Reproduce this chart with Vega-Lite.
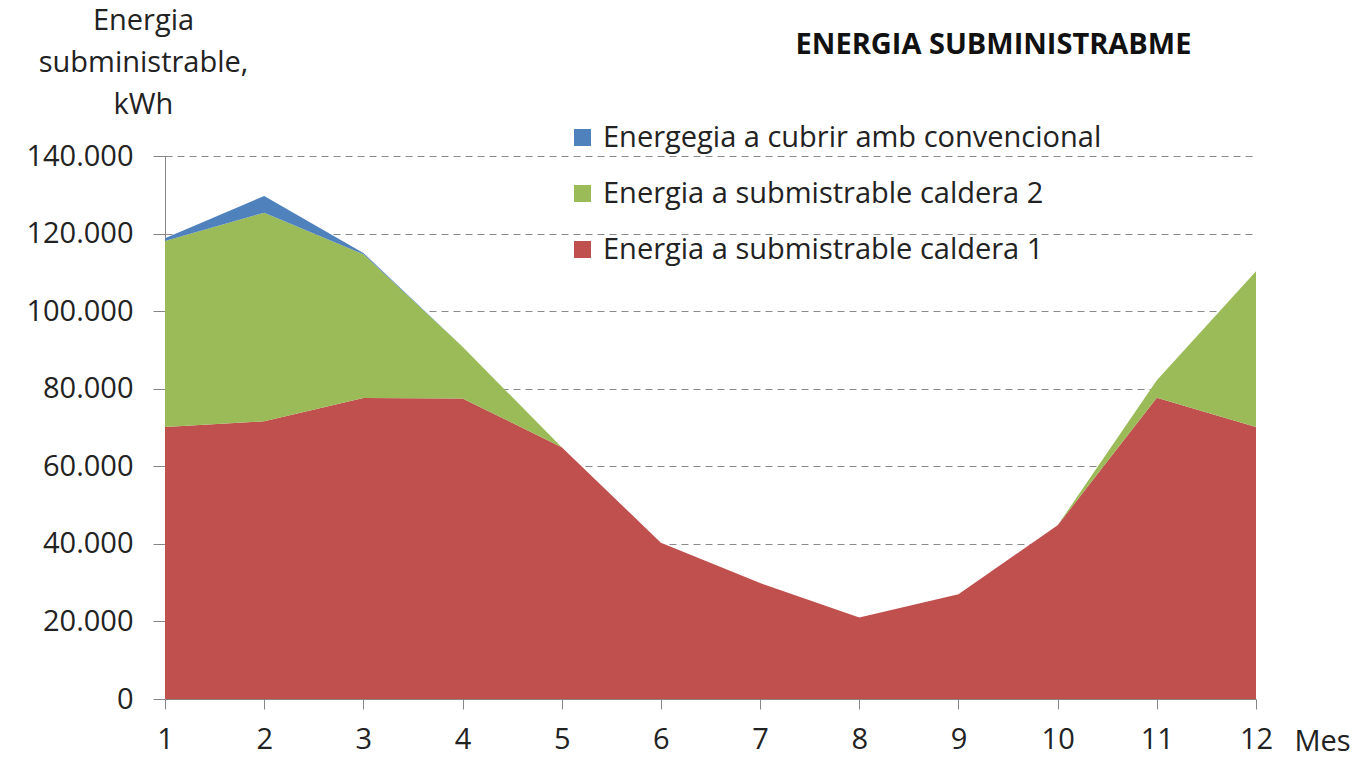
{
  "$schema": "https://vega.github.io/schema/vega-lite/v6.json",
  "width": 1091,
  "height": 543,
  "autosize": {"type": "none"},
  "padding": {"left": 165, "top": 156, "right": 102, "bottom": 59},
  "background": "white",
  "config": {
    "view": {"stroke": null},
    "font": "Open Sans",
    "locale": {"number": {"decimal": ",", "thousands": ".", "grouping": [3], "currency": ["", " €"]}}
  },
  "title": {
    "text": "ENERGIA SUBMINISTRABME",
    "font": "Open Sans",
    "fontSize": 29,
    "fontWeight": "bold",
    "color": "#111111",
    "anchor": "middle",
    "frame": "group",
    "dx": 283,
    "offset": -54
  },
  "data": {
    "values": [
      {"mes": 1, "serie": "Energia a submistrable caldera 1", "ordre": 1, "kwh": 70100},
      {"mes": 2, "serie": "Energia a submistrable caldera 1", "ordre": 1, "kwh": 71600},
      {"mes": 3, "serie": "Energia a submistrable caldera 1", "ordre": 1, "kwh": 77600},
      {"mes": 4, "serie": "Energia a submistrable caldera 1", "ordre": 1, "kwh": 77500},
      {"mes": 5, "serie": "Energia a submistrable caldera 1", "ordre": 1, "kwh": 64900},
      {"mes": 6, "serie": "Energia a submistrable caldera 1", "ordre": 1, "kwh": 40300},
      {"mes": 7, "serie": "Energia a submistrable caldera 1", "ordre": 1, "kwh": 29900},
      {"mes": 8, "serie": "Energia a submistrable caldera 1", "ordre": 1, "kwh": 21000},
      {"mes": 9, "serie": "Energia a submistrable caldera 1", "ordre": 1, "kwh": 27000},
      {"mes": 10, "serie": "Energia a submistrable caldera 1", "ordre": 1, "kwh": 44800},
      {"mes": 11, "serie": "Energia a submistrable caldera 1", "ordre": 1, "kwh": 77700},
      {"mes": 12, "serie": "Energia a submistrable caldera 1", "ordre": 1, "kwh": 70100},
      {"mes": 1, "serie": "Energia a submistrable caldera 2", "ordre": 2, "kwh": 48000},
      {"mes": 2, "serie": "Energia a submistrable caldera 2", "ordre": 2, "kwh": 53800},
      {"mes": 3, "serie": "Energia a submistrable caldera 2", "ordre": 2, "kwh": 37100},
      {"mes": 4, "serie": "Energia a submistrable caldera 2", "ordre": 2, "kwh": 13300},
      {"mes": 5, "serie": "Energia a submistrable caldera 2", "ordre": 2, "kwh": 0},
      {"mes": 6, "serie": "Energia a submistrable caldera 2", "ordre": 2, "kwh": 0},
      {"mes": 7, "serie": "Energia a submistrable caldera 2", "ordre": 2, "kwh": 0},
      {"mes": 8, "serie": "Energia a submistrable caldera 2", "ordre": 2, "kwh": 0},
      {"mes": 9, "serie": "Energia a submistrable caldera 2", "ordre": 2, "kwh": 0},
      {"mes": 10, "serie": "Energia a submistrable caldera 2", "ordre": 2, "kwh": 0},
      {"mes": 11, "serie": "Energia a submistrable caldera 2", "ordre": 2, "kwh": 4500},
      {"mes": 12, "serie": "Energia a submistrable caldera 2", "ordre": 2, "kwh": 40200},
      {"mes": 1, "serie": "Energegia a cubrir amb convencional", "ordre": 3, "kwh": 700},
      {"mes": 2, "serie": "Energegia a cubrir amb convencional", "ordre": 3, "kwh": 4300},
      {"mes": 3, "serie": "Energegia a cubrir amb convencional", "ordre": 3, "kwh": 300},
      {"mes": 4, "serie": "Energegia a cubrir amb convencional", "ordre": 3, "kwh": 0},
      {"mes": 5, "serie": "Energegia a cubrir amb convencional", "ordre": 3, "kwh": 0},
      {"mes": 6, "serie": "Energegia a cubrir amb convencional", "ordre": 3, "kwh": 0},
      {"mes": 7, "serie": "Energegia a cubrir amb convencional", "ordre": 3, "kwh": 0},
      {"mes": 8, "serie": "Energegia a cubrir amb convencional", "ordre": 3, "kwh": 0},
      {"mes": 9, "serie": "Energegia a cubrir amb convencional", "ordre": 3, "kwh": 0},
      {"mes": 10, "serie": "Energegia a cubrir amb convencional", "ordre": 3, "kwh": 0},
      {"mes": 11, "serie": "Energegia a cubrir amb convencional", "ordre": 3, "kwh": 0},
      {"mes": 12, "serie": "Energegia a cubrir amb convencional", "ordre": 3, "kwh": 0}
    ]
  },
  "mark": {"type": "area", "interpolate": "linear"},
  "encoding": {
    "x": {
      "field": "mes",
      "type": "quantitative",
      "scale": {"domain": [1, 12], "nice": false, "zero": false},
      "axis": {
        "values": [1, 2, 3, 4, 5, 6, 7, 8, 9, 10, 11, 12],
        "format": "d",
        "grid": false,
        "domainColor": "#868686",
        "tickColor": "#868686",
        "tickSize": 10,
        "labelFontSize": 29,
        "labelColor": "#222222",
        "labelPadding": 16,
        "labelFlush": false,
        "title": "Mes",
        "titleFontSize": 29,
        "titleFontWeight": "normal",
        "titleColor": "#222222",
        "titleX": 1157,
        "titleY": 42,
        "titleAlign": "center",
        "titleBaseline": "middle"
      }
    },
    "y": {
      "field": "kwh",
      "type": "quantitative",
      "stack": "zero",
      "scale": {"domain": [0, 140000], "nice": false},
      "axis": {
        "values": [0, 20000, 40000, 60000, 80000, 100000, 120000, 140000],
        "format": ",.0f",
        "grid": true,
        "gridColor": "#8a8a8a",
        "gridDash": [7, 5],
        "gridWidth": 1,
        "domainColor": "#868686",
        "tickColor": "#868686",
        "tickSize": 12,
        "labelFontSize": 29,
        "labelColor": "#222222",
        "labelPadding": 20,
        "title": ["Energia", "subministrable,", "kWh"],
        "titleFontSize": 29,
        "titleFontWeight": "normal",
        "titleColor": "#222222",
        "titleAngle": 0,
        "titleX": -22,
        "titleY": -150,
        "titleAlign": "center",
        "titleBaseline": "top",
        "titleLineHeight": 42
      }
    },
    "color": {
      "field": "serie",
      "type": "nominal",
      "scale": {
        "domain": ["Energegia a cubrir amb convencional", "Energia a submistrable caldera 2", "Energia a submistrable caldera 1"],
        "range": ["#4F81BD", "#9BBB59", "#C0504D"]
      },
      "legend": {
        "title": null,
        "orient": "none",
        "legendX": 403,
        "legendY": -33,
        "symbolType": "square",
        "symbolSize": 289,
        "symbolStrokeWidth": 0,
        "symbolOpacity": 1,
        "labelFontSize": 29,
        "labelColor": "#222222",
        "labelLimit": 800,
        "labelOffset": 6,
        "rowPadding": 26
      }
    },
    "order": {"field": "ordre", "type": "quantitative", "sort": "ascending"}
  }
}
